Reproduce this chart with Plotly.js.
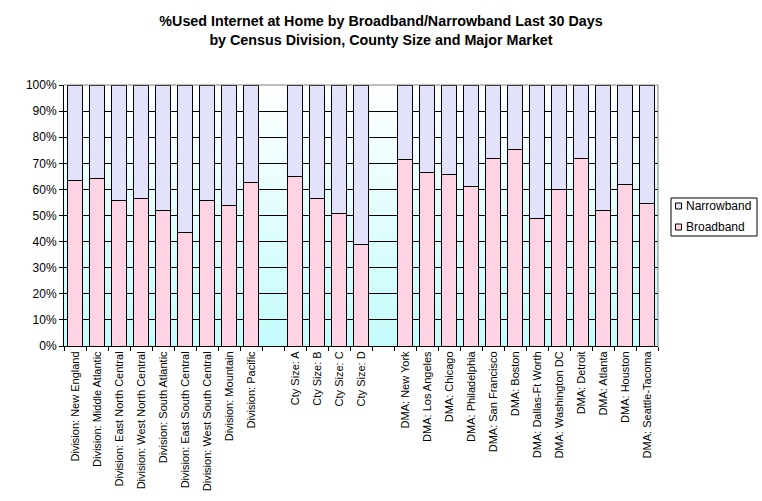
<!DOCTYPE html>
<html><head><meta charset="utf-8">
<script src="https://cdn.plot.ly/plotly-3.0.1.min.js"></script>
<style>body{margin:0;background:#fff}#chart{width:762px;height:501px}</style>
</head><body><div id="chart"></div>
<script>
const categories = [
  "Division: New England","Division: Middle Atlantic","Division: East North Central",
  "Division: West North Central","Division: South Atlantic","Division: East South Central",
  "Division: West South Central","Division: Mountain","Division: Pacific"," ",
  "Cty Size: A","Cty Size: B","Cty Size: C","Cty Size: D","  ",
  "DMA: New York","DMA: Los Angeles","DMA: Chicago","DMA: Philadelphia","DMA: San Francisco",
  "DMA: Boston","DMA: Dallas-Ft Worth","DMA: Washington DC","DMA: Detroit","DMA: Atlanta",
  "DMA: Houston","DMA: Seattle-Tacoma"
];
const broadband = [63.3,64.1,55.6,56.4,51.8,43.4,55.6,53.8,62.6,null,
  64.9,56.7,50.7,38.7,null,
  71.3,66.3,65.6,61.3,72.0,75.1,48.7,59.8,72.0,51.8,61.8,54.5];
const narrowband = broadband.map(v => v === null ? null : +(100 - v).toFixed(1));
const yTicks = [0,10,20,30,40,50,60,70,80,90,100];
const seriesNames = ["Narrowband","Broadband"];
const seriesColors = ["#e2e2fb","#ffd2e4"];

const M = {l:64, r:104, t:85, b:155}, W = 762, H = 501;
const pw = W - M.l - M.r, ph = H - M.t - M.b;
const px = x => (x - M.l) / pw;
const py = y => (H - M.b - y) / ph;

const bgSvg = '<svg xmlns="http://www.w3.org/2000/svg" width="10" height="100" preserveAspectRatio="none">' +
  '<defs><linearGradient id="g" x1="0" y1="0" x2="0" y2="1"><stop offset="0" stop-color="#ffffff"/>' +
  '<stop offset="1" stop-color="#c4fbfb"/></linearGradient></defs><rect width="10" height="100" fill="url(#g)"/></svg>';
const bgUri = 'data:image/svg+xml;base64,' + btoa(bgSvg);

const traces = [
  {type:'bar', name:'Broadband', x:categories, y:broadband,
   marker:{color:seriesColors[1], line:{color:'#000', width:1}}, hoverinfo:'x+y'},
  {type:'bar', name:'Narrowband', x:categories, y:narrowband,
   marker:{color:seriesColors[0], line:{color:'#000', width:1}}, hoverinfo:'x+y'}
];

const shapes = [
  {type:'line', xref:'paper', yref:'paper', x0:0, x1:1, y0:1, y1:1, line:{color:'#808080', width:1}},
  {type:'line', xref:'paper', yref:'paper', x0:1, x1:1, y0:0, y1:1, line:{color:'#808080', width:1}},
  {type:'rect', xref:'paper', yref:'paper', x0:px(671), x1:px(757), y0:py(198), y1:py(236),
   line:{color:'#000', width:1}, fillcolor:'#fff'}
];
const annotations = [];
seriesNames.forEach((n, i) => {
  const yc = 206 + i*21;
  shapes.push({type:'rect', xref:'paper', yref:'paper', x0:px(675.5), x1:px(681.5),
    y0:py(yc-3), y1:py(yc+3), line:{color:'#000', width:1}, fillcolor:seriesColors[i]});
  annotations.push({xref:'paper', yref:'paper', x:px(684), y:py(yc), xanchor:'left', yanchor:'middle',
    text:n, showarrow:false, font:{size:12, color:'#000'}});
});

const layout = {
  width:W, height:H,
  margin:M,
  paper_bgcolor:'#fff', plot_bgcolor:'rgba(0,0,0,0)',
  font:{family:'"Liberation Sans", Arial, sans-serif', size:11, color:'#000'},
  title:{text:'<b>%Used Internet at Home by Broadband/Narrowband Last 30 Days<br>by Census Division, County Size and Major Market</b>',
    x:0.5, xref:'container', xanchor:'center', y:0.948, yanchor:'top', font:{size:14.3, color:'#000'}},
  barmode:'stack', bargap:0.33,
  showlegend:false,
  xaxis:{type:'category', categoryorder:'array', categoryarray:categories,
    tickangle:-90, tickson:'boundaries', ticks:'outside', ticklen:4, tickcolor:'#000',
    showline:true, linecolor:'#000', linewidth:1, showgrid:false,
    tickfont:{size:11}, automargin:false},
  yaxis:{range:[0,100], tickvals:yTicks, ticktext:yTicks.map(v=>v+'%'),
    showgrid:true, gridcolor:'#000', gridwidth:1, zeroline:false,
    showline:true, linecolor:'#000', ticks:'outside', ticklen:4, tickcolor:'#000',
    tickfont:{size:12}, automargin:false},
  images:[{source:bgUri, xref:'paper', yref:'paper', x:0, y:1, sizex:1, sizey:1,
    sizing:'stretch', layer:'below', xanchor:'left', yanchor:'top'}],
  shapes:shapes, annotations:annotations
};
Plotly.newPlot('chart', traces, layout, {displayModeBar:false, staticPlot:true});
</script></body></html>
